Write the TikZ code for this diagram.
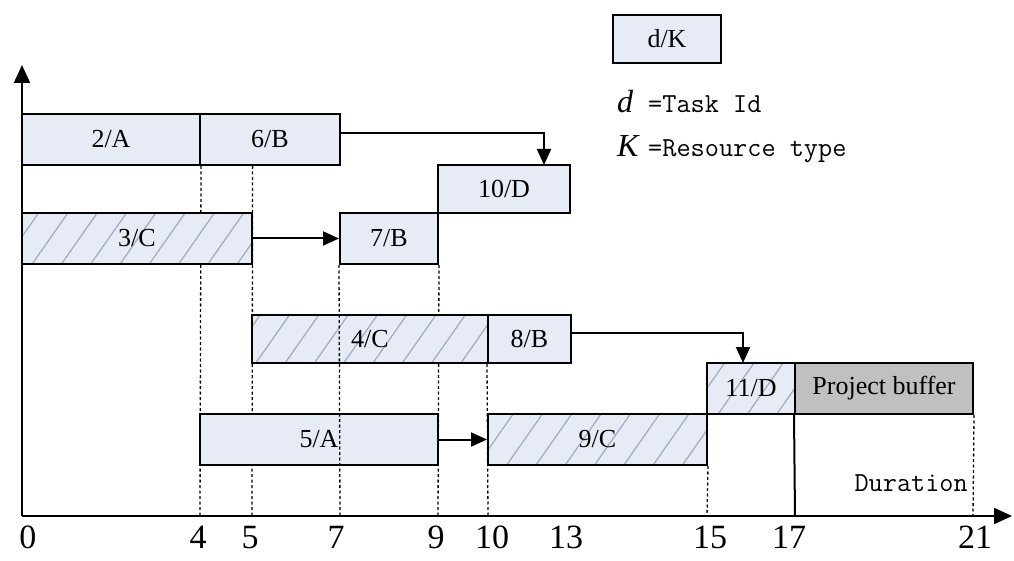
\documentclass[tikz,border=0pt]{standalone}
\usepackage{fontspec}
\setmainfont{Liberation Serif}
\usepackage{tikz}
\usetikzlibrary{arrows.meta,patterns.meta}
\pgfdeclarelayer{bg}
\pgfsetlayers{bg,main}
\definecolor{taskfill}{RGB}{230,235,245}
\definecolor{hatchcol}{RGB}{160,170,190}
\definecolor{buffill}{RGB}{192,192,192}
\newcommand{\taskfont}{\fontsize{26}{30}\selectfont}
\newcommand{\tickfont}{\fontsize{34}{40}\selectfont}
\newcommand{\keymono}{\fontsize{27.5}{32}\selectfont\ttfamily}
\newcommand{\keyital}{\fontsize{32}{36}\selectfont\itshape}
\tikzset{
  task/.style={draw, line width=2pt, fill=taskfill, inner sep=0pt, font=\taskfont},
  hatched/.style={preaction={fill=taskfill}, pattern={Lines[angle=55,distance=24pt,line width=1.2pt]}, pattern color=hatchcol},
  guide/.style={line width=1.3pt, dash pattern=on 3pt off 2.5pt},
  flow/.style={line width=2pt, -{Triangle[length=16pt,width=14pt]}},
  axis/.style={line width=2pt, -{Triangle[length=18pt,width=16pt]}}
}

\begin{document}
\begin{tikzpicture}[x=1pt,y=-1pt]
        \useasboundingbox (0,0) rectangle (1014,561);
        \coordinate (origin) at (22,516);
        \coordinate (ytip) at (22,65);
        \coordinate (xtip) at (1012,516);
        \coordinate (x4) at (200,516);
        \coordinate (x5) at (252,516);
        \coordinate (x7) at (340,516);
        \coordinate (x9) at (438,516);
        \coordinate (x10) at (488,516);
        \coordinate (x15) at (707,516);
        \coordinate (x17) at (795,516);
        \coordinate (x21) at (973,516);
        \coordinate (in10) at (544,165);
        \coordinate (in11) at (743,363);
        % tasks
        \node (t2) [task, minimum width=178pt, minimum height=51pt] at (111,139.5) {2/A};
        \node (t6) [task, minimum width=140pt, minimum height=51pt] at (270,139.5) {6/B};
        \node (t10) [task, minimum width=132pt, minimum height=48pt] at (504,189) {10/D};
        \node (t3) [task, hatched, minimum width=230pt, minimum height=51pt] at (137,238.5) {3/C};
        \node (t7) [task, minimum width=98pt, minimum height=51pt] at (389,238.5) {7/B};
        \node (t4) [task, hatched, minimum width=236pt, minimum height=48pt] at (370,339) {4/C};
        \node (t8) [task, minimum width=83pt, minimum height=48pt] at (529.5,339) {8/B};
        \node (t11) [task, hatched, minimum width=88pt, minimum height=51pt] at (751,388.5) {11/D};
        \node (buffer) [task, fill=buffill, minimum width=178pt, minimum height=51pt] at (884,388.5) {Project buffer};
        \node (t5) [task, minimum width=238pt, minimum height=51pt] at (319,439.5) {5/A};
        \node (t9) [task, hatched, minimum width=219pt, minimum height=51pt] at (597.5,439.5) {9/C};
        % key
        \node (key) [task, minimum width=108pt, minimum height=48pt] at (667,39) {d/K};
        \node (keyd) [anchor=base west, inner sep=0pt, font=\keyital] at (617,113) {d};
        \node (keydtxt) [anchor=base west, inner sep=0pt, font=\keymono] at (648,113) {=Task Id};
        \node (keyk) [anchor=base west, inner sep=0pt, font=\keyital] at (617,157) {K};
        \node (keyktxt) [anchor=base west, inner sep=0pt, font=\keymono] at (648,157) {=Resource type};
        \node (dur) [anchor=base east, inner sep=0pt, font=\keymono] at (968,491) {Duration};
        % time axis
        \node (l0) [anchor=base, font=\tickfont] at (28,548) {0};
        \node (l4) [anchor=base, font=\tickfont] at (198,548) {4};
        \node (l5) [anchor=base, font=\tickfont] at (250,548) {5};
        \node (l7) [anchor=base, font=\tickfont] at (336,548) {7};
        \node (l9) [anchor=base, font=\tickfont] at (436,548) {9};
        \node (l10) [anchor=base, font=\tickfont] at (492,548) {10};
        \node (l13) [anchor=base, font=\tickfont] at (566,548) {13};
        \node (l15) [anchor=base, font=\tickfont] at (710,548) {15};
        \node (l17) [anchor=base, font=\tickfont] at (789,548) {17};
        \node (l21) [anchor=base, font=\tickfont] at (975,548) {21};
        \draw [axis] (origin) -- (ytip);
        \draw [axis] (origin) -- (xtip);
        \draw [guide] (t7.south west) -- (x7);
        \draw [line width=2pt] (buffer.south west) -- (x17);
        \draw [flow] ([yshift=6pt]t6.east) -| (in10);
        \draw [flow] (t3.east) -- (t7.west);
        \draw [flow] ([yshift=6pt]t8.east) -| (in11);
        \draw [flow] (t5.east) -- (t9.west);
        \begin{pgfonlayer}{bg}
                \draw [guide] (t2.south east) -- (x4);
                \draw [guide] (t3.east |- t6.south) -- (x5);
                \draw [guide] (t7.south east) -- (x9);
                \draw [guide] (t8.south west) -- (x10);
                \draw [guide] (t9.south east) -- (x15);
                \draw [guide] (buffer.south east) -- (x21);
        \end{pgfonlayer}
\end{tikzpicture}
\end{document}
